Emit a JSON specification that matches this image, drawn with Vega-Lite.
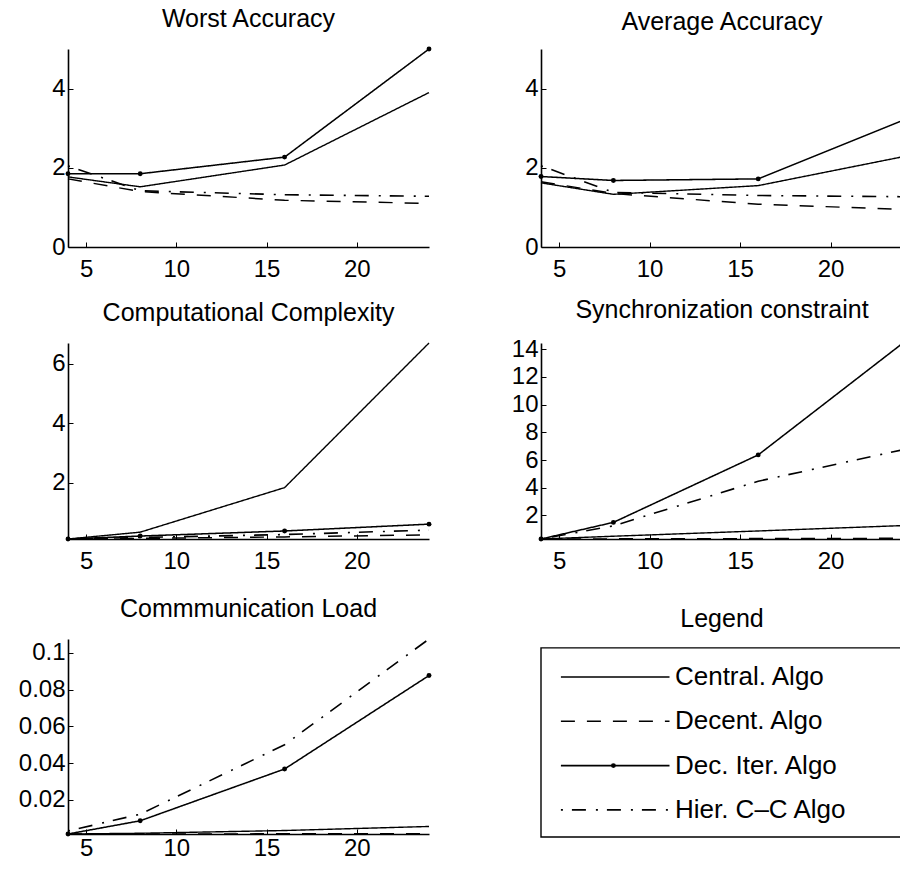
{
  "$schema": "https://vega.github.io/schema/vega-lite/v6.json",
  "padding": {"left": 18, "top": 6, "right": 0, "bottom": 0},
  "background": "white",
  "datasets": {
    "perf": [
      {"metric": "worst", "algo": "Central. Algo", "n": 4, "value": 1.77},
      {"metric": "worst", "algo": "Central. Algo", "n": 8, "value": 1.52},
      {"metric": "worst", "algo": "Central. Algo", "n": 16, "value": 2.07},
      {"metric": "worst", "algo": "Central. Algo", "n": 24, "value": 3.9},
      {"metric": "worst", "algo": "Decent. Algo", "n": 4, "value": 1.72},
      {"metric": "worst", "algo": "Decent. Algo", "n": 8, "value": 1.4},
      {"metric": "worst", "algo": "Decent. Algo", "n": 16, "value": 1.18},
      {"metric": "worst", "algo": "Decent. Algo", "n": 24, "value": 1.1},
      {"metric": "worst", "algo": "Dec. Iter. Algo", "n": 4, "value": 1.85},
      {"metric": "worst", "algo": "Dec. Iter. Algo", "n": 8, "value": 1.85},
      {"metric": "worst", "algo": "Dec. Iter. Algo", "n": 16, "value": 2.27},
      {"metric": "worst", "algo": "Dec. Iter. Algo", "n": 24, "value": 5.0},
      {"metric": "worst", "algo": "Hier. C–C Algo", "n": 4, "value": 2.05},
      {"metric": "worst", "algo": "Hier. C–C Algo", "n": 8, "value": 1.42},
      {"metric": "worst", "algo": "Hier. C–C Algo", "n": 16, "value": 1.32},
      {"metric": "worst", "algo": "Hier. C–C Algo", "n": 24, "value": 1.28},

      {"metric": "avg", "algo": "Central. Algo", "n": 4, "value": 1.62},
      {"metric": "avg", "algo": "Central. Algo", "n": 8, "value": 1.33},
      {"metric": "avg", "algo": "Central. Algo", "n": 16, "value": 1.55},
      {"metric": "avg", "algo": "Central. Algo", "n": 24, "value": 2.28},
      {"metric": "avg", "algo": "Decent. Algo", "n": 4, "value": 1.65},
      {"metric": "avg", "algo": "Decent. Algo", "n": 8, "value": 1.35},
      {"metric": "avg", "algo": "Decent. Algo", "n": 16, "value": 1.08},
      {"metric": "avg", "algo": "Decent. Algo", "n": 24, "value": 0.95},
      {"metric": "avg", "algo": "Dec. Iter. Algo", "n": 4, "value": 1.78},
      {"metric": "avg", "algo": "Dec. Iter. Algo", "n": 8, "value": 1.68},
      {"metric": "avg", "algo": "Dec. Iter. Algo", "n": 16, "value": 1.72},
      {"metric": "avg", "algo": "Dec. Iter. Algo", "n": 24, "value": 3.2},
      {"metric": "avg", "algo": "Hier. C–C Algo", "n": 4, "value": 2.05},
      {"metric": "avg", "algo": "Hier. C–C Algo", "n": 8, "value": 1.38},
      {"metric": "avg", "algo": "Hier. C–C Algo", "n": 16, "value": 1.3},
      {"metric": "avg", "algo": "Hier. C–C Algo", "n": 24, "value": 1.27},

      {"metric": "comp", "algo": "Central. Algo", "n": 4, "value": 0.1},
      {"metric": "comp", "algo": "Central. Algo", "n": 8, "value": 0.33},
      {"metric": "comp", "algo": "Central. Algo", "n": 16, "value": 1.83},
      {"metric": "comp", "algo": "Central. Algo", "n": 24, "value": 6.7},
      {"metric": "comp", "algo": "Decent. Algo", "n": 4, "value": 0.1},
      {"metric": "comp", "algo": "Decent. Algo", "n": 8, "value": 0.12},
      {"metric": "comp", "algo": "Decent. Algo", "n": 16, "value": 0.17},
      {"metric": "comp", "algo": "Decent. Algo", "n": 24, "value": 0.24},
      {"metric": "comp", "algo": "Dec. Iter. Algo", "n": 4, "value": 0.1},
      {"metric": "comp", "algo": "Dec. Iter. Algo", "n": 8, "value": 0.2},
      {"metric": "comp", "algo": "Dec. Iter. Algo", "n": 16, "value": 0.37},
      {"metric": "comp", "algo": "Dec. Iter. Algo", "n": 24, "value": 0.6},
      {"metric": "comp", "algo": "Hier. C–C Algo", "n": 4, "value": 0.1},
      {"metric": "comp", "algo": "Hier. C–C Algo", "n": 8, "value": 0.15},
      {"metric": "comp", "algo": "Hier. C–C Algo", "n": 16, "value": 0.25},
      {"metric": "comp", "algo": "Hier. C–C Algo", "n": 24, "value": 0.4},

      {"metric": "sync", "algo": "Central. Algo", "n": 4, "value": 0.3},
      {"metric": "sync", "algo": "Central. Algo", "n": 8, "value": 0.5},
      {"metric": "sync", "algo": "Central. Algo", "n": 16, "value": 0.88},
      {"metric": "sync", "algo": "Central. Algo", "n": 24, "value": 1.27},
      {"metric": "sync", "algo": "Decent. Algo", "n": 4, "value": 0.3},
      {"metric": "sync", "algo": "Decent. Algo", "n": 8, "value": 0.31},
      {"metric": "sync", "algo": "Decent. Algo", "n": 16, "value": 0.33},
      {"metric": "sync", "algo": "Decent. Algo", "n": 24, "value": 0.35},
      {"metric": "sync", "algo": "Dec. Iter. Algo", "n": 4, "value": 0.3},
      {"metric": "sync", "algo": "Dec. Iter. Algo", "n": 8, "value": 1.5},
      {"metric": "sync", "algo": "Dec. Iter. Algo", "n": 16, "value": 6.37},
      {"metric": "sync", "algo": "Dec. Iter. Algo", "n": 24, "value": 14.45},
      {"metric": "sync", "algo": "Hier. C–C Algo", "n": 4, "value": 0.3},
      {"metric": "sync", "algo": "Hier. C–C Algo", "n": 8, "value": 1.25},
      {"metric": "sync", "algo": "Hier. C–C Algo", "n": 16, "value": 4.47},
      {"metric": "sync", "algo": "Hier. C–C Algo", "n": 24, "value": 6.75},

      {"metric": "comm", "algo": "Central. Algo", "n": 4, "value": 0.0014},
      {"metric": "comm", "algo": "Central. Algo", "n": 8, "value": 0.0018},
      {"metric": "comm", "algo": "Central. Algo", "n": 16, "value": 0.0033},
      {"metric": "comm", "algo": "Central. Algo", "n": 24, "value": 0.0055},
      {"metric": "comm", "algo": "Decent. Algo", "n": 4, "value": 0.0014},
      {"metric": "comm", "algo": "Decent. Algo", "n": 8, "value": 0.0014},
      {"metric": "comm", "algo": "Decent. Algo", "n": 16, "value": 0.0015},
      {"metric": "comm", "algo": "Decent. Algo", "n": 24, "value": 0.0016},
      {"metric": "comm", "algo": "Dec. Iter. Algo", "n": 4, "value": 0.0014},
      {"metric": "comm", "algo": "Dec. Iter. Algo", "n": 8, "value": 0.0086},
      {"metric": "comm", "algo": "Dec. Iter. Algo", "n": 16, "value": 0.0368},
      {"metric": "comm", "algo": "Dec. Iter. Algo", "n": 24, "value": 0.0877},
      {"metric": "comm", "algo": "Hier. C–C Algo", "n": 4, "value": 0.003},
      {"metric": "comm", "algo": "Hier. C–C Algo", "n": 8, "value": 0.0122},
      {"metric": "comm", "algo": "Hier. C–C Algo", "n": 16, "value": 0.05},
      {"metric": "comm", "algo": "Hier. C–C Algo", "n": 24, "value": 0.1076}
    ],
    "keys": [
      {"algo": "Central. Algo"},
      {"algo": "Decent. Algo"},
      {"algo": "Dec. Iter. Algo"},
      {"algo": "Hier. C–C Algo"}
    ]
  },
  "data": {"name": "perf"},
  "columns": 2,
  "spacing": {"row": 17, "column": 78},
  "concat": [
    {
      "title": "Worst Accuracy",
      "width": 361, "height": 198,
      "transform": [{"filter": "datum.metric === 'worst'"}],
      "encoding": {
        "x": {"field": "n", "type": "quantitative", "scale": {"domain": [4, 24], "nice": false, "zero": false}, "axis": {"values": [5, 10, 15, 20], "labelPadding": 15}},
        "y": {"field": "value", "type": "quantitative", "scale": {"domain": [0, 5], "nice": false, "zero": false}, "axis": {"values": [0, 2, 4], "labelOverlap": false}}
      },
      "layer": [
        {
          "mark": {"type": "line", "color": "black"},
          "encoding": {
            "strokeDash": {"field": "algo", "type": "nominal", "scale": {"domain": ["Central. Algo", "Decent. Algo", "Dec. Iter. Algo", "Hier. C–C Algo"], "range": [[1, 0], [14, 12], [1, 0], [2, 9, 14, 10]]}, "legend": null},
            "strokeWidth": {"field": "algo", "type": "nominal", "scale": {"domain": ["Central. Algo", "Decent. Algo", "Dec. Iter. Algo", "Hier. C–C Algo"], "range": [1.4, 1.6, 2.0, 1.4]}, "legend": null}
          }
        },
        {
          "transform": [{"filter": "datum.algo === 'Dec. Iter. Algo'"}],
          "mark": {"type": "circle", "color": "black", "size": 24, "opacity": 1},
          "encoding": {}
        }
      ]
    },
    {
      "title": "Average Accuracy",
      "width": 362, "height": 198,
      "transform": [{"filter": "datum.metric === 'avg'"}],
      "encoding": {
        "x": {"field": "n", "type": "quantitative", "scale": {"domain": [4, 24], "nice": false, "zero": false}, "axis": {"values": [5, 10, 15, 20], "labelPadding": 15}},
        "y": {"field": "value", "type": "quantitative", "scale": {"domain": [0, 5], "nice": false, "zero": false}, "axis": {"values": [0, 2, 4], "labelOverlap": false}}
      },
      "layer": [
        {
          "mark": {"type": "line", "color": "black"},
          "encoding": {
            "strokeDash": {"field": "algo", "type": "nominal", "scale": {"domain": ["Central. Algo", "Decent. Algo", "Dec. Iter. Algo", "Hier. C–C Algo"], "range": [[1, 0], [14, 12], [1, 0], [2, 9, 14, 10]]}, "legend": null},
            "strokeWidth": {"field": "algo", "type": "nominal", "scale": {"domain": ["Central. Algo", "Decent. Algo", "Dec. Iter. Algo", "Hier. C–C Algo"], "range": [1.4, 1.6, 2.0, 1.4]}, "legend": null}
          }
        },
        {
          "transform": [{"filter": "datum.algo === 'Dec. Iter. Algo'"}],
          "mark": {"type": "circle", "color": "black", "size": 24, "opacity": 1},
          "encoding": {}
        }
      ]
    },
    {
      "title": "Computational Complexity",
      "width": 361, "height": 196,
      "transform": [{"filter": "datum.metric === 'comp'"}],
      "encoding": {
        "x": {"field": "n", "type": "quantitative", "scale": {"domain": [4, 24], "nice": false, "zero": false}, "axis": {"values": [5, 10, 15, 20], "labelPadding": 15, "minExtent": 40}},
        "y": {"field": "value", "type": "quantitative", "scale": {"domain": [0.1, 6.7], "nice": false, "zero": false}, "axis": {"values": [2, 4, 6], "labelOverlap": false}}
      },
      "layer": [
        {
          "mark": {"type": "line", "color": "black"},
          "encoding": {
            "strokeDash": {"field": "algo", "type": "nominal", "scale": {"domain": ["Central. Algo", "Decent. Algo", "Dec. Iter. Algo", "Hier. C–C Algo"], "range": [[1, 0], [14, 12], [1, 0], [2, 9, 14, 10]]}, "legend": null},
            "strokeWidth": {"field": "algo", "type": "nominal", "scale": {"domain": ["Central. Algo", "Decent. Algo", "Dec. Iter. Algo", "Hier. C–C Algo"], "range": [1.4, 1.6, 2.0, 1.4]}, "legend": null}
          }
        },
        {
          "transform": [{"filter": "datum.algo === 'Dec. Iter. Algo'"}],
          "mark": {"type": "circle", "color": "black", "size": 24, "opacity": 1},
          "encoding": {}
        }
      ]
    },
    {
      "title": "Synchronization constraint",
      "width": 362, "height": 196,
      "transform": [{"filter": "datum.metric === 'sync'"}],
      "encoding": {
        "x": {"field": "n", "type": "quantitative", "scale": {"domain": [4, 24], "nice": false, "zero": false}, "axis": {"values": [5, 10, 15, 20], "labelPadding": 15, "minExtent": 40}},
        "y": {"field": "value", "type": "quantitative", "scale": {"domain": [0.3, 14.45], "nice": false, "zero": false}, "axis": {"values": [2, 4, 6, 8, 10, 12, 14], "labelOverlap": false, "labelSeparation": 0}}
      },
      "layer": [
        {
          "mark": {"type": "line", "color": "black"},
          "encoding": {
            "strokeDash": {"field": "algo", "type": "nominal", "scale": {"domain": ["Central. Algo", "Decent. Algo", "Dec. Iter. Algo", "Hier. C–C Algo"], "range": [[1, 0], [14, 12], [1, 0], [2, 9, 14, 10]]}, "legend": null},
            "strokeWidth": {"field": "algo", "type": "nominal", "scale": {"domain": ["Central. Algo", "Decent. Algo", "Dec. Iter. Algo", "Hier. C–C Algo"], "range": [1.4, 1.6, 2.0, 1.4]}, "legend": null}
          }
        },
        {
          "transform": [{"filter": "datum.algo === 'Dec. Iter. Algo'"}],
          "mark": {"type": "circle", "color": "black", "size": 24, "opacity": 1},
          "encoding": {}
        }
      ]
    },
    {
      "title": "Commmunication Load",
      "width": 361, "height": 195,
      "transform": [{"filter": "datum.metric === 'comm'"}],
      "encoding": {
        "x": {"field": "n", "type": "quantitative", "scale": {"domain": [4, 24], "nice": false, "zero": false}, "axis": {"values": [5, 10, 15, 20], "labelPadding": 7}},
        "y": {"field": "value", "type": "quantitative", "scale": {"domain": [0.0014, 0.1076], "nice": false, "zero": false}, "axis": {"values": [0.02, 0.04, 0.06, 0.08, 0.1], "format": "~g", "labelOverlap": false}}
      },
      "layer": [
        {
          "mark": {"type": "line", "color": "black"},
          "encoding": {
            "strokeDash": {"field": "algo", "type": "nominal", "scale": {"domain": ["Central. Algo", "Decent. Algo", "Dec. Iter. Algo", "Hier. C–C Algo"], "range": [[1, 0], [14, 12], [1, 0], [2, 9, 14, 10]]}, "legend": null},
            "strokeWidth": {"field": "algo", "type": "nominal", "scale": {"domain": ["Central. Algo", "Decent. Algo", "Dec. Iter. Algo", "Hier. C–C Algo"], "range": [1.4, 1.6, 2.0, 1.4]}, "legend": null}
          }
        },
        {
          "transform": [{"filter": "datum.algo === 'Dec. Iter. Algo'"}],
          "mark": {"type": "circle", "color": "black", "size": 24, "opacity": 1},
          "encoding": {}
        }
      ]
    },
    {
      "title": {"text": "Legend", "offset": 7},
      "width": 362, "height": 198,
      "data": {"name": "keys"},
      "resolve": {"scale": {"y": "independent"}},
      "layer": [
        {
          "data": {"values": [{"box": "frame"}]},
          "mark": {"type": "rect", "fill": null, "stroke": "black", "strokeWidth": 1.4},
          "encoding": {
            "x": {"datum": 0, "type": "quantitative", "scale": {"domain": [0, 1], "nice": false, "zero": false}, "axis": null},
            "x2": {"datum": 1},
            "y": {"datum": 0, "type": "quantitative", "scale": {"domain": [0, 1], "nice": false, "zero": false}, "axis": null},
            "y2": {"datum": 0.955}
          }
        },
        {
          "layer": [
            {
              "mark": {"type": "rule", "color": "black"},
              "encoding": {
                "x": {"datum": 0.055, "type": "quantitative"},
                "x2": {"datum": 0.355},
                "y": {"field": "algo", "type": "nominal", "sort": null, "scale": {"type": "point", "domain": ["Central. Algo", "Decent. Algo", "Dec. Iter. Algo", "Hier. C–C Algo"], "padding": 0.735, "align": 0.584}, "axis": null},
                "strokeDash": {"field": "algo", "type": "nominal", "scale": {"domain": ["Central. Algo", "Decent. Algo", "Dec. Iter. Algo", "Hier. C–C Algo"], "range": [[1, 0], [14, 12], [1, 0], [2, 9, 14, 10]]}, "legend": null},
                "strokeWidth": {"field": "algo", "type": "nominal", "scale": {"domain": ["Central. Algo", "Decent. Algo", "Dec. Iter. Algo", "Hier. C–C Algo"], "range": [1.4, 1.6, 2.0, 1.4]}, "legend": null}
              }
            },
            {
              "transform": [{"filter": "datum.algo === 'Dec. Iter. Algo'"}],
              "mark": {"type": "circle", "color": "black", "size": 24, "opacity": 1},
              "encoding": {
                "x": {"datum": 0.2, "type": "quantitative"},
                "y": {"field": "algo", "type": "nominal"}
              }
            },
            {
              "mark": {"type": "text", "align": "left", "baseline": "middle", "font": "Liberation Sans", "fontSize": 26, "color": "black"},
              "encoding": {
                "x": {"datum": 0.37, "type": "quantitative"},
                "y": {"field": "algo", "type": "nominal"},
                "text": {"field": "algo"}
              }
            }
          ]
        }
      ]
    }
  ],
  "config": {
    "view": {"stroke": null},
    "font": "Liberation Sans",
    "title": {"font": "Liberation Sans", "fontSize": 25, "fontWeight": "normal", "color": "black", "anchor": "middle", "offset": 14},
    "axis": {
      "title": null,
      "grid": false,
      "labelFont": "Liberation Sans",
      "labelFontSize": 24,
      "labelColor": "black",
      "labelOverlap": false,
      "domainColor": "black",
      "domainWidth": 1.6,
      "tickColor": "black",
      "tickWidth": 1,
      "tickSize": -5
    },
    "axisY": {"labelPadding": 8}
  }
}
